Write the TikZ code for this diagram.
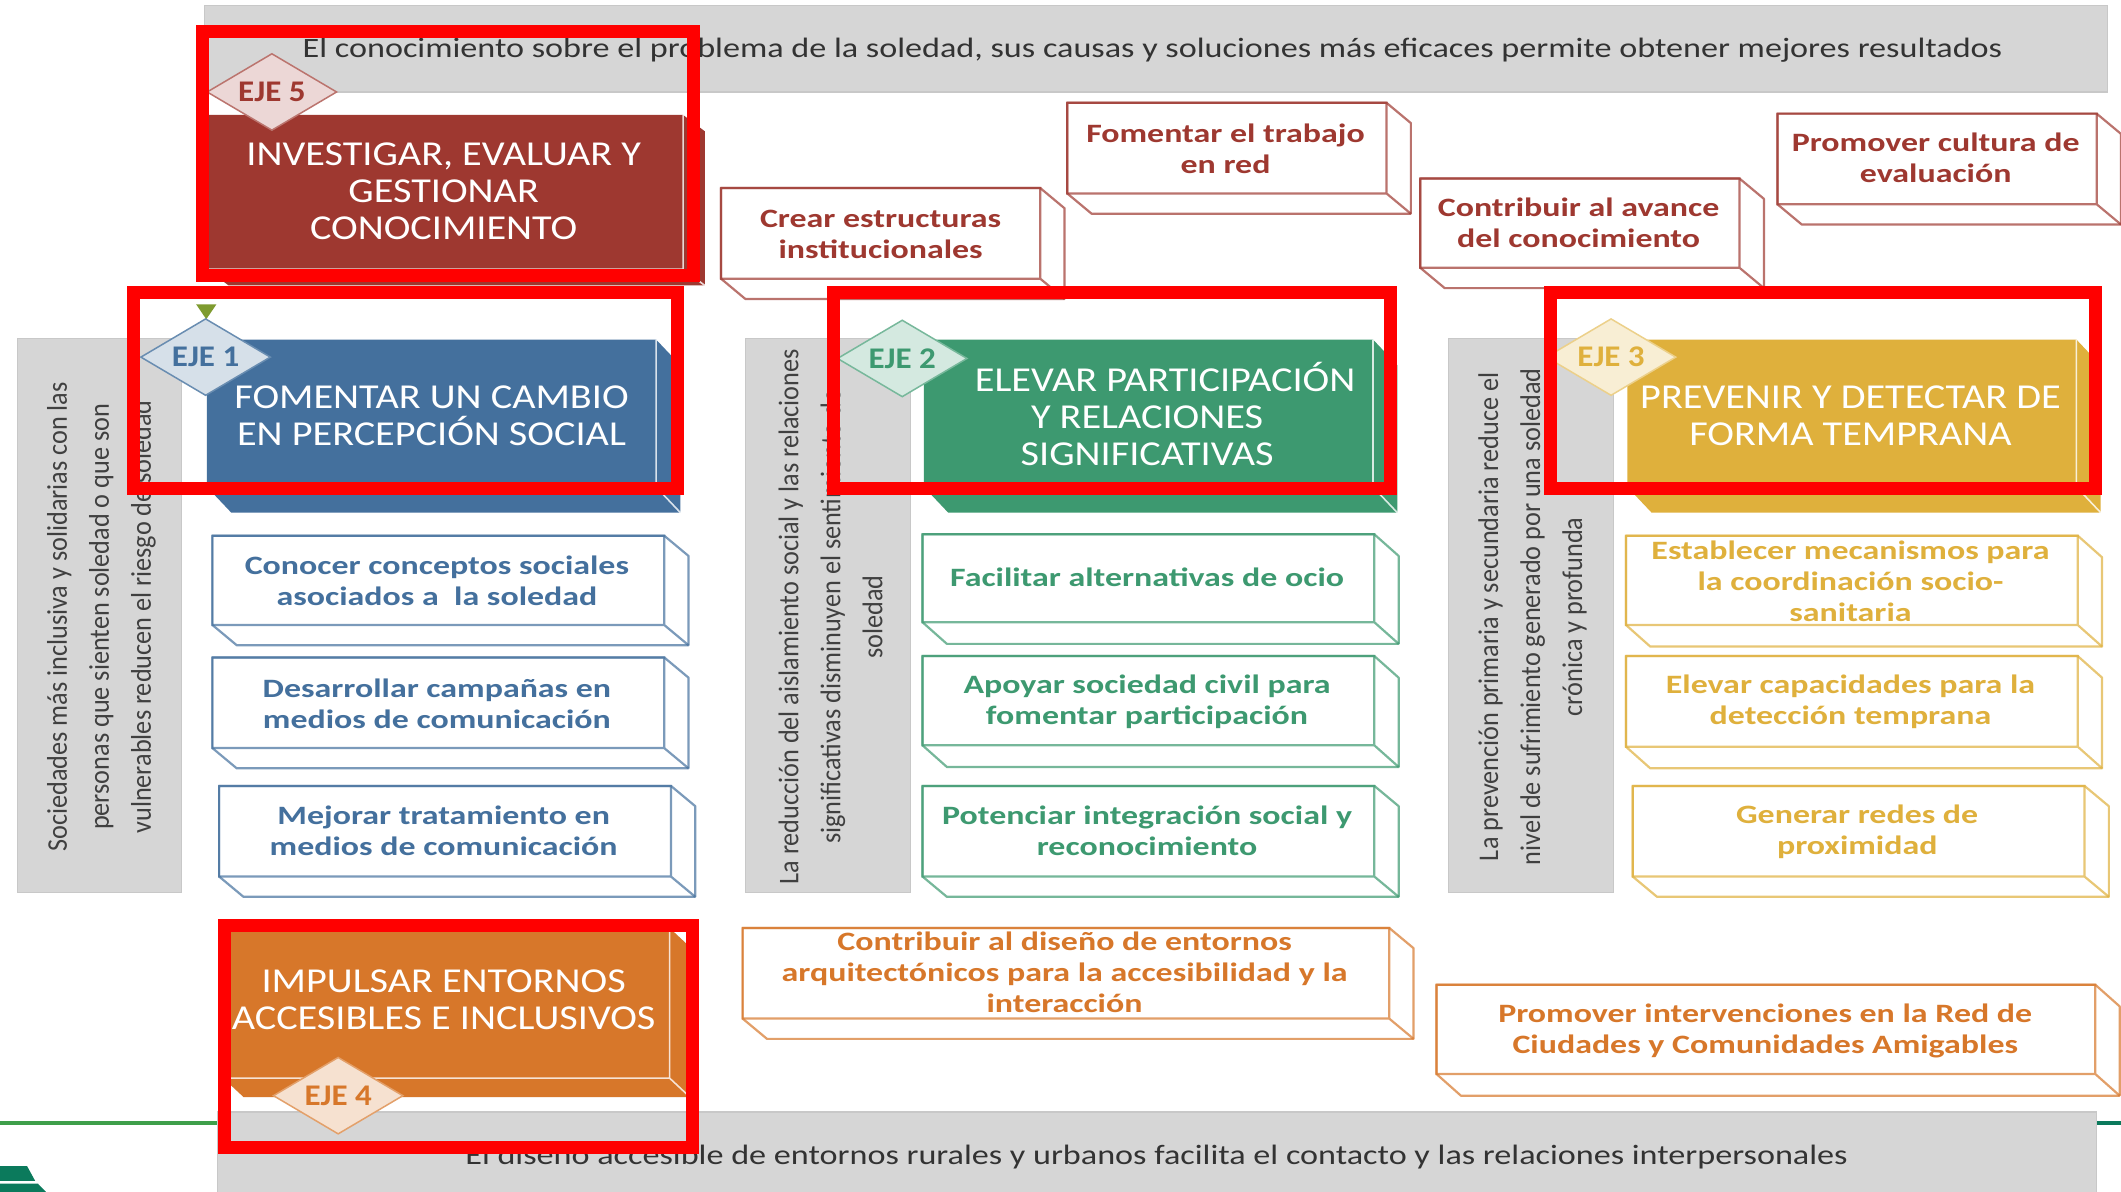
\documentclass[tikz,border=0pt]{standalone}
\usepackage{fontspec}
\setmainfont{Carlito}
\newfontfamily\lblfont[FakeStretch=1.28]{Carlito}
\newfontfamily\barfont[FakeStretch=1.22]{Carlito}
\newfontfamily\sidefont[FakeStretch=.92]{Carlito}
\newfontfamily\headfont[FakeStretch=1.15]{Carlito}
\newfontfamily\ejefont[FakeStretch=1.1]{Carlito}
\usetikzlibrary{shapes.geometric}
\definecolor{cRed}{HTML}{9E3830}
\definecolor{cBlue}{HTML}{44709D}
\definecolor{cGreen}{HTML}{3D9970}
\definecolor{cYellow}{HTML}{DFB03C}
\definecolor{cOrange}{HTML}{D7772A}
\definecolor{cGrey}{HTML}{D6D6D6}
\definecolor{cGreyL}{HTML}{C8C8C8}
\definecolor{cTxt}{HTML}{404040}
\definecolor{cRule}{HTML}{3E9F4A}
\definecolor{cTeal}{HTML}{0B7A5C}
\definecolor{cOlive}{HTML}{7E9B2F}
\newcommand{\obox}[7]{%
  \pgfmathsetmacro{\xa}{#1+#5-#3}\pgfmathsetmacro{\ya}{#2+#6-#4}%
  \draw[#7,line width=2.2pt,line join=round,fill=white,draw opacity=.7]
    (#1,#2)--(#3,#2)--(#5,\ya)--(#5,#6)--(\xa,#6)--(#1,#4)--cycle;
  \draw[#7,line width=2.2pt,draw opacity=.7] (#1,#2) rectangle (#3,#4) (#3,#4)--(#5,#6);}
\newcommand{\hdbox}[7]{%
  \pgfmathsetmacro{\xa}{#1+#5-#3}\pgfmathsetmacro{\ya}{#2+#6-#4}%
  \fill[#7] (#1,#2)--(#3,#2)--(#5,\ya)--(#5,#6)--(\xa,#6)--(#1,#4)--cycle;
  \draw[white,line width=1.6pt,draw opacity=.8] (#3,#2)--(#3,#4)--(#1,#4) (#3,#4)--(#5,#6);}
\tikzset{
  x=1.3527pt,y=-1.3527pt,
  greybar/.style={fill=cGrey,draw=cGreyL,line width=1.2pt},
  bartext/.style={font=\barfont\fontsize{28}{34}\selectfont,text=black!80,inner sep=0},
  sidetext/.style={font=\sidefont\fontsize{28.5}{42}\selectfont,text=cTxt,rotate=90,align=center,inner sep=0},
  headtext/.style={font=\headfont\fontsize{35}{37}\selectfont,text=white,align=center,inner sep=0},
  boxtext/.style={font=\lblfont\bfseries\fontsize{26.5}{31}\selectfont,align=center,inner sep=0},
  ejemark/.style={diamond,aspect=1.68,inner sep=0,minimum width=130pt,minimum height=77pt,line width=1.5pt,
     font=\ejefont\bfseries\fontsize{30}{30}\selectfont},
  redframe/.style={draw=red,line width=13pt},
}
\begin{document}
\begin{tikzpicture}
\useasboundingbox (0,0) rectangle (1568,881.2);
\fill[white] (0,0) rectangle (1568,881.2);
% green rule and mark
\draw[draw=cRule,line width=4pt] (0,830) -- (161,830);
\draw[draw=cTeal,line width=4pt] (1550,830) -- (1568,830);
\fill[cTeal] (0,862)--(20,862)--(26,873)--(0,873)--cycle;
\fill[cTeal] (0,875)--(28,875)--(34,881.2)--(0,881.2)--cycle;
% grey bars
\draw[greybar] (151,4) rectangle (1558,68);
\draw[greybar] (161,822) rectangle (1550,882);
\draw[greybar] (13,250) rectangle (134,660);
\draw[greybar] (551,250) rectangle (673,660);
\draw[greybar] (1071,250) rectangle (1193,660);
\node[bartext] (topbar) at (852,37) {El conocimiento sobre el problema de la soledad, sus causas y soluciones más eficaces permite obtener mejores resultados};
\node[bartext] (botbar) at (855,855) {El diseño accesible de entornos rurales y urbanos facilita el contacto y las relaciones interpersonales};
\node[sidetext] (side1) at (75,456) {Sociedades más inclusiva y solidarias con las\\personas que sienten soledad o que son\\vulnerables reducen el riesgo de soledad};
\node[sidetext] (side2) at (614,456) {La reducción del aislamiento social y las relaciones\\significativas disminuyen el sentimiento de\\soledad};
\node[sidetext] (side3) at (1133,456) {La prevención primaria y secundaria reduce el\\nivel de sufrimiento generado por una soledad\\crónica y profunda};
% headers
\hdbox{153}{85}{505}{199}{521}{211}{cRed}
\hdbox{153}{251}{485}{360}{503}{379}{cBlue}
\hdbox{683}{251}{1015}{360}{1033}{379}{cGreen}
\hdbox{1203}{251}{1535}{360}{1553}{379}{cYellow}
\hdbox{165}{686}{495}{797}{510}{811}{cOrange}
\node[headtext] (h5) at (328,141.5) {INVESTIGAR, EVALUAR Y\\GESTIONAR\\CONOCIMIENTO};
\node[headtext] (h1) at (319,307.5) {FOMENTAR UN CAMBIO\\EN PERCEPCIÓN SOCIAL};
\node[headtext] (h2) at (848,306) {\hspace*{36pt}ELEVAR PARTICIPACIÓN\\Y RELACIONES\\SIGNIFICATIVAS};
\node[headtext] (h3) at (1368,307.5) {PREVENIR Y DETECTAR DE\\FORMA TEMPRANA};
\node[headtext] (h4) at (328,739) {IMPULSAR ENTORNOS\\ACCESIBLES E INCLUSIVOS};
% blue boxes
\obox{157}{396}{491}{462}{509}{477}{cBlue}
\obox{157}{486}{491}{553}{509}{568}{cBlue}
\obox{162}{581}{496}{648}{514}{663}{cBlue}
\node[boxtext,text=cBlue] (b1) at (323,429) {Conocer conceptos sociales\\asociados a\ \ la soledad};
\node[boxtext,text=cBlue] (b2) at (323,520) {Desarrollar campañas en\\medios de comunicación};
\node[boxtext,text=cBlue] (b3) at (328,614) {Mejorar tratamiento en\\medios de comunicación};
% green boxes
\obox{682}{395}{1016}{460}{1034}{476}{cGreen}
\obox{682}{485}{1016}{551}{1034}{567}{cGreen}
\obox{682}{581}{1016}{648}{1034}{663}{cGreen}
\node[boxtext,text=cGreen] (g1) at (848,427) {Facilitar alternativas de ocio};
\node[boxtext,text=cGreen] (g2) at (848,519) {Apoyar sociedad civil para\\fomentar participación};
\node[boxtext,text=cGreen] (g3) at (848,614) {Potenciar integración social y\\reconocimiento};
% yellow boxes
\obox{1202}{396}{1536}{462}{1554}{478}{cYellow}
\obox{1202}{485}{1536}{552}{1554}{568}{cYellow}
\obox{1207}{581}{1541}{648}{1559}{663}{cYellow}
\node[boxtext,text=cYellow] (y1) at (1368,430) {Establecer mecanismos para\\la coordinación socio-\\sanitaria};
\node[boxtext,text=cYellow] (y2) at (1368,519) {Elevar capacidades para la\\detección temprana};
\node[boxtext,text=cYellow] (y3) at (1373,615) {Generar redes de\\proximidad};
% orange boxes
\obox{549}{686}{1027}{753}{1045}{768}{cOrange}
\obox{1062}{728}{1549}{794}{1567}{810}{cOrange}
\node[boxtext,text=cOrange] (o1) at (787,719) {Contribuir al diseño de entornos\\arquitectónicos para la accesibilidad y la\\interacción};
\node[boxtext,text=cOrange] (o2) at (1305,762) {Promover intervenciones en la Red de\\Ciudades y Comunidades Amigables};
% red boxes
\obox{533}{139}{769}{206}{787}{221}{cRed}
\obox{789}{76}{1025}{143}{1043}{158}{cRed}
\obox{1050}{132}{1286}{198}{1304}{213}{cRed}
\obox{1314}{84}{1550}{151}{1568}{166}{cRed}
\node[boxtext,text=cRed] (r1) at (651,173) {Crear estructuras\\institucionales};
\node[boxtext,text=cRed] (r2) at (906,110) {Fomentar el trabajo\\en red};
\node[boxtext,text=cRed] (r3) at (1167,165) {Contribuir al avance\\del conocimiento};
\node[boxtext,text=cRed] (r4) at (1431,117) {Promover cultura de\\evaluación};
% diamonds
\fill[cOlive] (145,225)--(160,225)--(152.5,236)--cycle;
\node[ejemark,fill=cRed!20!white,draw=cRed!70!white,text=cRed] (e5) at (201,68) {EJE 5};
\node[ejemark,fill=cBlue!22!white,draw=cBlue!80!white,text=cBlue] (e1) at (152,264) {EJE 1};
\node[ejemark,fill=cGreen!22!white,draw=cGreen!70!white,text=cGreen] (e2) at (667,265) {EJE 2};
\node[ejemark,fill=cYellow!22!white,draw=cYellow!60!white,text=cYellow] (e3) at (1191,264) {EJE 3};
\node[ejemark,fill=cOrange!22!white,draw=cOrange!70!white,text=cOrange] (e4) at (250,810) {EJE 4};
% red frames
\draw[redframe] (149.5,23.5) rectangle (512.5,204);
\draw[redframe] (99,216) rectangle (501,361);
\draw[redframe] (616,216) rectangle (1028,361);
\draw[redframe] (1146,216) rectangle (1549,361);
\draw[redframe] (166,684) rectangle (512,848);
\end{tikzpicture}
\end{document}
